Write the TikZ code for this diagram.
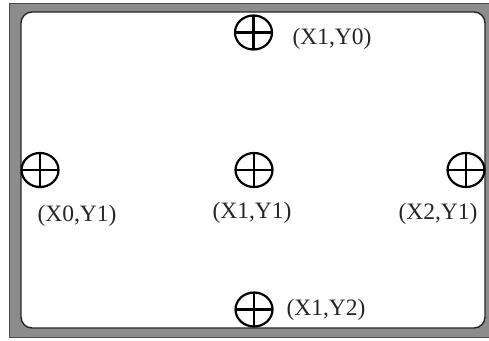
\documentclass[tikz,border=0pt]{standalone}
\usepackage{fontspec}
\setmainfont{Liberation Serif}
\usetikzlibrary{shapes.geometric}
\definecolor{framegray}{RGB}{140,140,140}
\tikzset{
	target/.style = {
		ellipse,
		draw=black,
		line width=2.2pt,
		minimum width=37pt,
		minimum height=34pt,
		inner sep=0pt,
		path picture={
			\draw[line width=2.2pt]
				(path picture bounding box.north) -- (path picture bounding box.south)
				(path picture bounding box.west) -- (path picture bounding box.east);
		}
	},
	poslabel/.style = {
		inner sep=0pt,
		font=\fontsize{23.5}{28}\selectfont,
		text=black!85
	},
}

\begin{document}
\begin{tikzpicture}[x=1pt,y=-1pt]
\useasboundingbox (0,0) rectangle (489,340);
% frame and board
\fill[white] (0,0) rectangle (489,340);
\draw[fill=framegray,draw=black!70,line width=1pt] (9,3) rectangle (492,337);
\draw[fill=white,draw=black!85,line width=1.4pt,rounded corners=11pt] (21,12) rectangle (485,328);
% markers
\node [target] (x1y0) at (253.5,32.5) {};
\node [target] (x0y1) at (40,170) {};
\node [target] (x1y1) at (254,170) {};
\node [target] (x2y1) at (466,170) {};
\node [target] (x1y2) at (254,309.5) {};
% labels
\node [poslabel] (l_x1y0) at (332,39) {(X1,Y0)};
\node [poslabel] (l_x0y1) at (77,216) {(X0,Y1)};
\node [poslabel] (l_x1y1) at (252,213) {(X1,Y1)};
\node [poslabel] (l_x2y1) at (438,214) {(X2,Y1)};
\node [poslabel] (l_x1y2) at (326,310) {(X1,Y2)};
\end{tikzpicture}
\end{document}
